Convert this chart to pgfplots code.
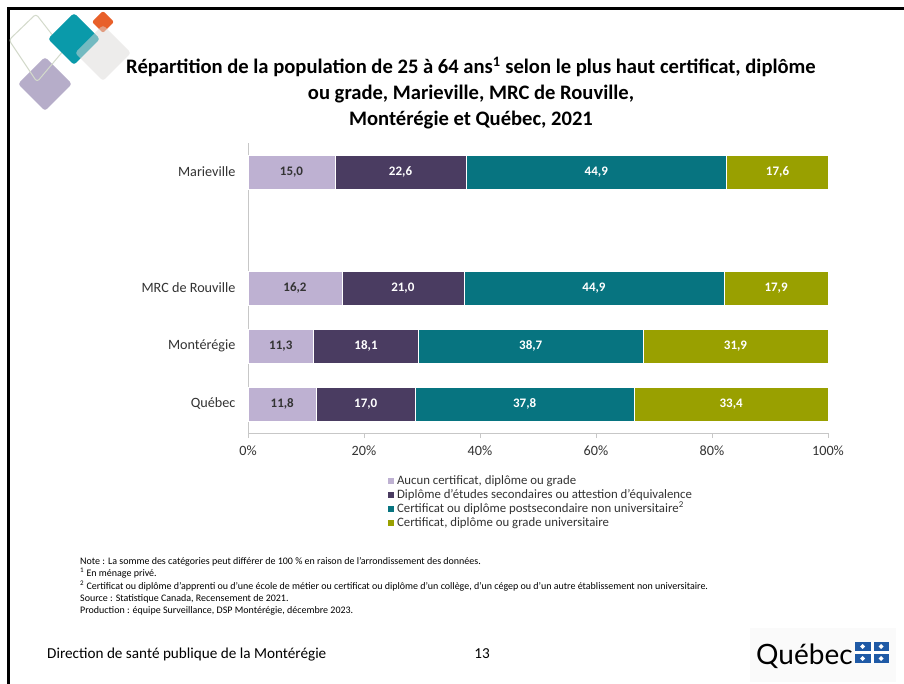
\documentclass[border=0pt]{standalone}
\usepackage{fontspec}
\setmainfont{Carlito}
\newfontfamily\logofont{Lato}
\usepackage{pgfplots}
\usepackage{pgfplotstable}
\pgfplotsset{compat=1.18}
\definecolor{cA}{HTML}{BEB1D2}
\definecolor{cB}{HTML}{4A3C61}
\definecolor{cC}{HTML}{077480}
\definecolor{cD}{HTML}{99A000}
\definecolor{lteal}{HTML}{0A9AAA}
\definecolor{lorange}{HTML}{E8602A}
\definecolor{lpurple}{HTML}{B6ADC9}
\definecolor{lgray}{HTML}{DDDAD8}
\definecolor{lline}{HTML}{D3DACB}
\definecolor{txt}{HTML}{333333}
\definecolor{qblue}{HTML}{1F5AA6}
\newcommand{\diam}[3]{(#1,#2-#3) -- (#1+#3,#2) -- (#1,#2+#3) -- (#1-#3,#2) -- cycle}
% pos: 0 = Québec, 1 = Montérégie, 2 = MRC de Rouville, 4 = Marieville
\pgfplotstableread{
pos a b c d
0 11.8 17.0 37.8 33.4
1 11.3 18.1 38.7 31.9
2 16.2 21.0 44.9 17.9
4 15.0 22.6 44.9 17.6
}\data
\begin{document}
\begin{tikzpicture}
\path[use as bounding box] (0,0) rectangle (904pt,-684pt);
\fill[white] (0,0) rectangle (904pt,-684pt);
\begin{scope}[x=1pt,y=-1pt]
  % frame
  \draw[black, line width=2.5pt] (8.5,684) -- (8.5,8.5) -- (904,8.5);
  % logo diamonds
  \fill[lpurple, rounded corners=3pt] \diam{45}{84}{27};
  \draw[lline, line width=1pt, rounded corners=3pt] (36,14) -- (64,50) -- (37,82) -- (9,40) -- cycle;
  \fill[lteal, rounded corners=3pt] \diam{74}{39}{26};
  \fill[lorange, rounded corners=2pt] \diam{103}{22}{11};
  \fill[lgray, opacity=0.5, rounded corners=3pt] \diam{103}{53}{28};
  % title
  \begin{scope}[every node/.style={anchor=base, inner sep=0pt, font=\bfseries\fontsize{20.6}{24}\selectfont}]
  \node at (471,74)
    {Répartition de la population de 25 à 64 ans\textsuperscript{1} selon le plus haut certificat, diplôme};
  \node at (471,100)
    {ou grade, Marieville, MRC de Rouville,};
  \node at (471,125.5)
    {Montérégie et Québec, 2021};
  \end{scope}
  % notes
  \begin{scope}[every node/.style={anchor=base west, inner sep=0pt, font=\fontsize{10}{12}\selectfont, text=black}]
    \node at (80,564) {Note : La somme des catégories peut différer de 100 \% en raison de l'arrondissement des données.};
    \node at (80,576.5) {\textsuperscript{1} En ménage privé.};
    \node at (80,589) {\textsuperscript{2} Certificat ou diplôme d’apprenti ou d’une école de métier ou certificat ou diplôme d’un collège, d’un cégep ou d’un autre établissement non universitaire.};
    \node at (80,601) {Source : Statistique Canada, Recensement de 2021.};
    \node at (80,613) {Production : équipe Surveillance, DSP Montérégie, décembre 2023.};
  \end{scope}
  % footer
  \node[anchor=base west, inner sep=0pt, font=\fontsize{15.2}{17}\selectfont] at (47,658) {Direction de santé publique de la Montérégie};
  \node[anchor=base, inner sep=0pt, font=\fontsize{15.2}{17}\selectfont] at (482,658) {13};
  \fill[black!2] (750,628) rectangle (896,682);
  \node[anchor=base west, inner sep=0pt, font=\logofont\fontsize{28}{30}\selectfont] at (756,664) {Québec};
  \fill[qblue] (855,642) rectangle (889,663);
  \fill[white] (870.5,642) rectangle (873.5,663);
  \fill[white] (855,651) rectangle (889,654);
  \foreach \cx/\cy in {862.7/646.5, 881.2/646.5, 862.7/658.5, 881.2/658.5}
    \fill[white] (\cx,\cy-2.5) -- (\cx+2.5,\cy) -- (\cx,\cy+2.5) -- (\cx-2.5,\cy) -- cycle;
\end{scope}
\begin{axis}[
  at={(248pt,-433pt)}, anchor=south west,
  scale only axis, width=580pt, height=290pt,
  xbar stacked, bar width=34pt,
  xmin=0, xmax=100, ymin=-0.5, ymax=4.5,
  ytick={0,1,2,4}, yticklabels={Québec,Montérégie,MRC de Rouville,Marieville},
  xtick={0,20,40,60,80,100}, xticklabels={0\%,20\%,40\%,60\%,80\%,100\%},
  axis lines*=left,
  axis line style={draw=black!22, line width=0.9pt},
  tick align=outside, major tick length=5pt,
  xtick style={draw=black!22, line width=0.9pt},
  ytick style={draw=none},
  tick label style={font=\fontsize{14.2}{16}\selectfont, text=txt},
  yticklabel style={xshift=-4pt},
  xticklabel style={yshift=-4pt},
  /pgf/number format/assume math mode=true,
  point meta=explicit,
  nodes near coords={\pgfmathprintnumber[fixed,fixed zerofill,precision=1,use comma]{\pgfplotspointmeta}},
  every node near coord/.append style={anchor=center, font=\bfseries\fontsize{13}{15}\selectfont},
  legend style={at={(0.236,-0.134)}, anchor=north west, draw=none, fill=none,
    font=\fontsize{12.8}{15}\selectfont, text=txt, row sep=0pt,
    nodes={inner ysep=1pt, inner xsep=3pt, text height=9pt, text depth=3pt}},
  legend cell align=left,
  legend image code/.code={\fill[#1, draw=none] (0pt,-3pt) rectangle (6pt,3pt);},
  clip=false,
]
\addplot[fill=cA, draw=white, line width=0.4pt, every node near coord/.append style={text=txt}] table[x=a, y=pos, meta=a] {\data};
\addplot[fill=cB, draw=white, line width=0.4pt, every node near coord/.append style={text=white}] table[x=b, y=pos, meta=b] {\data};
\addplot[fill=cC, draw=white, line width=0.4pt, every node near coord/.append style={text=white}] table[x=c, y=pos, meta=c] {\data};
\addplot[fill=cD, draw=white, line width=0.4pt, every node near coord/.append style={text=white}] table[x=d, y=pos, meta=d] {\data};
\legend{{Aucun certificat, diplôme ou grade},
  {Diplôme d'études secondaires ou attestion d'équivalence},
  {Certificat ou diplôme postsecondaire non universitaire\textsuperscript{2}},
  {Certificat, diplôme ou grade universitaire}}
\end{axis}
\end{tikzpicture}
\end{document}
